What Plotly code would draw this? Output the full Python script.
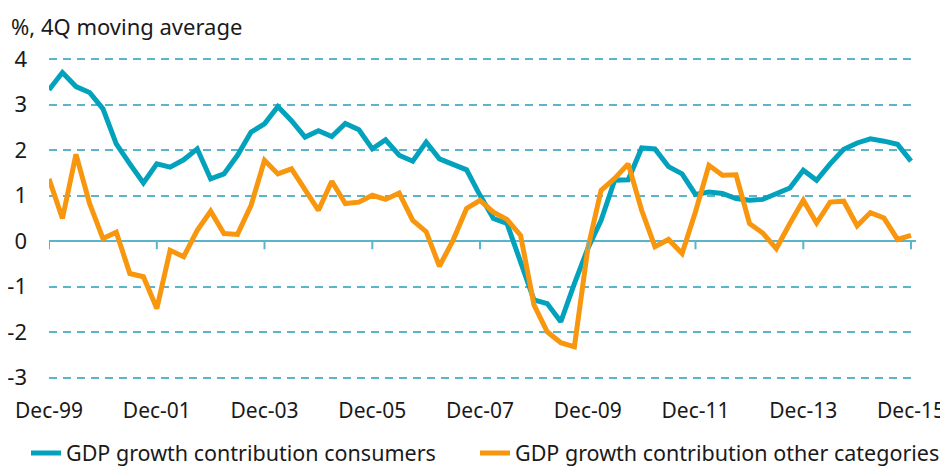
import pandas as pd
import plotly.graph_objects as go

quarters = pd.date_range("1999-12-01", "2015-12-01", freq="3MS").strftime("%Y-%m-%d").tolist()

consumers = [3.33, 3.71, 3.40, 3.27, 2.91, 2.14, 1.70, 1.28, 1.70, 1.63,
             1.79, 2.03, 1.37, 1.48, 1.89, 2.40, 2.58, 2.96, 2.65, 2.29,
             2.43, 2.30, 2.59, 2.45, 2.03, 2.23, 1.89, 1.76, 2.18, 1.81,
             1.69, 1.57, 1.01, 0.50, 0.39, -0.45, -1.29, -1.37, -1.77, -0.93,
             -0.16, 0.46, 1.34, 1.35, 2.05, 2.03, 1.64, 1.48, 1.03, 1.08,
             1.05, 0.94, 0.90, 0.92, 1.05, 1.17, 1.56, 1.34, 1.70, 2.02,
             2.16, 2.25, 2.20, 2.13, 1.76]

other = [1.37, 0.50, 1.91, 0.83, 0.06, 0.20, -0.71, -0.78, -1.48, -0.20,
         -0.34, 0.24, 0.66, 0.17, 0.15, 0.79, 1.78, 1.48, 1.59, 1.15,
         0.68, 1.32, 0.83, 0.86, 1.01, 0.92, 1.06, 0.46, 0.21, -0.55,
         0.02, 0.72, 0.90, 0.64, 0.48, 0.13, -1.40, -1.99, -2.23, -2.32,
         -0.16, 1.12, 1.38, 1.70, 0.68, -0.12, 0.04, -0.27, 0.65, 1.67,
         1.45, 1.46, 0.39, 0.18, -0.16, 0.39, 0.90, 0.40, 0.86, 0.88,
         0.34, 0.63, 0.51, 0.04, 0.13]

series_names = ["GDP growth contribution consumers", "GDP growth contribution other categories"]
series_colors = ["#02a2bd", "#f8960e"]

tick_dates = ["1999-12-01", "2001-12-01", "2003-12-01", "2005-12-01", "2007-12-01",
              "2009-12-01", "2011-12-01", "2013-12-01", "2015-12-01"]
tick_text = ["Dec-99", "Dec-01", "Dec-03", "Dec-05", "Dec-07",
             "Dec-09", "Dec-11", "Dec-13", "Dec-15"]
y_ticks = [-3, -2, -1, 0, 1, 2, 3, 4]
y_tick_text = ["-3", "-2", "-1", "0", "1", "2", "3", "4"]

FONT = "Noto Sans"
TXT = "#1a1a1a"
GRID = "#5ab4cc"

# page body has an 8px margin: figure is 940x460 so it ends at the window edge
W, H = 940, 460
L, R, T, B = 41, 32, 49, 88
PW, PH = W - L - R, H - T - B

fig = go.Figure()
legend_ids = ["legend", "legend2"]
for name, vals, col, lg in zip(series_names, [consumers, other], series_colors, legend_ids):
    fig.add_trace(go.Scatter(x=quarters, y=vals, mode="lines", name=name, legend=lg,
                             line=dict(color=col, width=5)))

for d in tick_dates:
    fig.add_shape(type="line", xref="x", yref="y", x0=d, x1=d,
                  ysizemode="pixel", yanchor=0, y0=0, y1=-8,
                  line=dict(color=GRID, width=2))

fig.add_annotation(text="%, 4Q moving average", xref="paper", yref="paper",
                   x=-40 / PW, y=1 + 31 / PH, xanchor="left", yanchor="middle",
                   showarrow=False, font=dict(family=FONT, size=22, color=TXT))

leg_common = dict(orientation="h", xref="container", yref="container",
                  xanchor="left", yanchor="middle", y=(H - 445) / H,
                  font=dict(family=FONT, size=21.5, color=TXT),
                  bgcolor="rgba(0,0,0,0)")

fig.update_layout(
    width=W, height=H,
    margin=dict(l=L, r=R, t=T, b=B, autoexpand=False),
    paper_bgcolor="white", plot_bgcolor="white",
    font=dict(family=FONT, size=22, color=TXT),
    showlegend=True,
    legend=dict(x=18 / W, **leg_common),
    legend2=dict(x=467 / W, **leg_common),
    xaxis=dict(type="date", range=["1999-12-01", "2016-01-04"], automargin=False,
               tickmode="array", tickvals=tick_dates, ticktext=tick_text,
               tickfont=dict(family=FONT, size=21, color=TXT),
               showgrid=False, zeroline=False, showline=False, ticks="",
               ticklabelstandoff=16),
    yaxis=dict(range=[-3.05, 4.05], tickmode="array", tickvals=y_ticks, ticktext=y_tick_text,
               automargin=False,
               showgrid=True, gridcolor=GRID, gridwidth=1.5, griddash="8px,6px",
               zeroline=True, zerolinecolor=GRID, zerolinewidth=2,
               showline=False, ticks="", ticklabelstandoff=21),
)

fig.write_html("out.html")
